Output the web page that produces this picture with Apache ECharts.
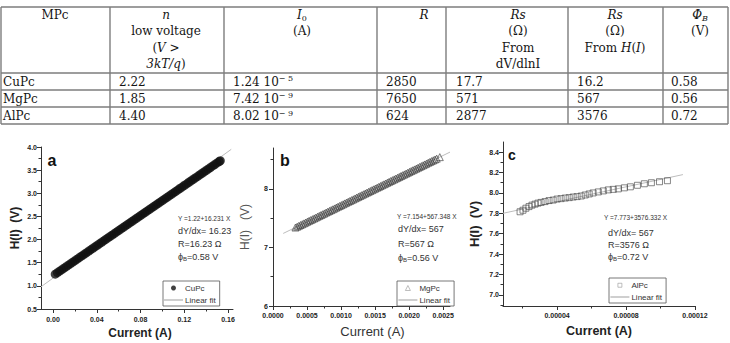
<!DOCTYPE html>
<html>
<head>
<meta charset="utf-8">
<script src="https://cdn.jsdelivr.net/npm/echarts@6/dist/echarts.min.js"></script>
<style>
html,body{margin:0;padding:0;background:#fff;}
#chart{width:730px;height:343px;}
</style>
</head>
<body>
<div id="chart"></div>
<script>
// ---------- Table data ----------
const tableHeaders = [
  ['MPc'],
  ['{i|n}', 'low voltage', '({i|V} >', '{i|3kT/q})'],
  ['{i|I}{sub|0}', '(A)'],
  ['{i|R}'],
  ['{i|Rs}', '(Ω)', 'From', 'dV/dlnI'],
  ['{i|Rs}', '(Ω)', 'From {i|H}({i|I})'],
  ['{i|Φ}{isub|B}', '(V)']
];
const mpc = ['CuPc', 'MgPc', 'AlPc'];
const nLow = ['2.22', '1.85', '4.40'];
const i0Mant = ['1.24', '7.42', '8.02'];
const i0Exp = ['− 5', '− 9', '− 9'];
const rVals = ['2850', '7650', '624'];
const rsDv = ['17.7', '571', '2877'];
const rsH = ['16.2', '567', '3576'];
const phiB = ['0.58', '0.56', '0.72'];

// ---------- Chart a (CuPc) ----------
const aCurrent = [0.002,0.004,0.006,0.008,0.010,0.012,0.014,0.016,0.018,0.020,0.022,0.024,0.026,0.028,0.030,0.032,0.034,0.036,0.038,0.040,0.042,0.044,0.046,0.048,0.050,0.052,0.054,0.056,0.058,0.060,0.062,0.064,0.066,0.068,0.070,0.072,0.074,0.076,0.078,0.080,0.082,0.084,0.086,0.088,0.090,0.092,0.094,0.096,0.098,0.100,0.102,0.104,0.106,0.108,0.110,0.112,0.114,0.116,0.118,0.120,0.122,0.124,0.126,0.128,0.130,0.132,0.134,0.136,0.138,0.140,0.142,0.144,0.146,0.148,0.150,0.152,0.153];
const aH = [1.252,1.285,1.317,1.350,1.382,1.415,1.447,1.480,1.512,1.545,1.577,1.610,1.642,1.674,1.707,1.739,1.772,1.804,1.837,1.869,1.902,1.934,1.967,1.999,2.032,2.064,2.096,2.129,2.161,2.194,2.226,2.259,2.291,2.324,2.356,2.389,2.421,2.454,2.486,2.518,2.551,2.583,2.616,2.648,2.681,2.713,2.746,2.778,2.811,2.843,2.876,2.908,2.940,2.973,3.005,3.038,3.070,3.103,3.135,3.168,3.200,3.233,3.265,3.298,3.330,3.362,3.395,3.427,3.460,3.492,3.525,3.557,3.590,3.622,3.655,3.687,3.703];
const aFitX = [-0.011, 0.163];
const aFitY = [0.98, 3.95];
const aXTicks = [0, 0.04, 0.08, 0.12, 0.16];
const aYTicks = [0.5, 1.0, 1.5, 2.0, 2.5, 3.0, 3.5, 4.0];
const aNotes = ['Y =1.22+16.231 X', 'dY/dx= 16.23', 'R=16.23 Ω', '0.58 V'];

// ---------- Chart b (MgPc) ----------
const bCurrent = [0.000330,0.000355,0.000380,0.000405,0.000430,0.000455,0.000480,0.000505,0.000530,0.000555,0.000580,0.000605,0.000630,0.000655,0.000680,0.000705,0.000730,0.000755,0.000780,0.000805,0.000830,0.000855,0.000880,0.000905,0.000930,0.000955,0.000980,0.001005,0.001030,0.001055,0.001080,0.001105,0.001130,0.001155,0.001180,0.001205,0.001230,0.001255,0.001280,0.001305,0.001330,0.001355,0.001380,0.001405,0.001430,0.001455,0.001480,0.001505,0.001530,0.001555,0.001580,0.001605,0.001630,0.001655,0.001680,0.001705,0.001730,0.001755,0.001780,0.001805,0.001830,0.001855,0.001880,0.001905,0.001930,0.001955,0.001980,0.002005,0.002030,0.002055,0.002080,0.002105,0.002130,0.002155,0.002180,0.002205,0.002230,0.002255,0.002280,0.002305,0.002330,0.002355,0.002380,0.002405,0.002450];
const bH = [7.341,7.355,7.370,7.384,7.398,7.412,7.426,7.441,7.455,7.469,7.483,7.497,7.511,7.526,7.540,7.554,7.568,7.582,7.597,7.611,7.625,7.639,7.653,7.667,7.682,7.696,7.710,7.724,7.738,7.753,7.767,7.781,7.795,7.809,7.823,7.838,7.852,7.866,7.880,7.894,7.909,7.923,7.937,7.951,7.965,7.980,7.994,8.008,8.022,8.036,8.050,8.065,8.079,8.093,8.107,8.121,8.136,8.150,8.164,8.178,8.192,8.206,8.221,8.235,8.249,8.263,8.277,8.292,8.306,8.320,8.334,8.348,8.362,8.377,8.391,8.405,8.419,8.433,8.448,8.462,8.476,8.490,8.504,8.518,8.544];
const bFitX = [0.00015, 0.0026];
const bFitY = [7.24, 8.63];
const bXTicks = [0, 0.0005, 0.0010, 0.0015, 0.0020, 0.0025];
const bYTicks = [6, 7, 8];
const bNotes = ['Y =7.154+567.348 X', 'dY/dx= 567', 'R=567 Ω', '0.56 V'];

// ---------- Chart c (AlPc) ----------
const cCurrent = [0.0000185,0.0000202,0.0000219,0.0000237,0.0000254,0.0000272,0.0000289,0.0000307,0.0000330,0.0000353,0.0000377,0.0000400,0.0000423,0.0000447,0.0000470,0.0000493,0.0000516,0.0000540,0.0000563,0.0000586,0.0000609,0.0000639,0.0000668,0.0000697,0.0000726,0.0000755,0.0000790,0.0000825,0.0000866,0.0000906,0.0000947,0.0000994,0.0001040];
const cH = [7.815,7.83,7.85,7.866,7.88,7.89,7.90,7.907,7.915,7.925,7.93,7.94,7.944,7.95,7.954,7.96,7.964,7.97,7.98,7.99,8.00,8.01,8.02,8.03,8.035,8.04,8.05,8.06,8.075,8.09,8.10,8.11,8.12];
const cFitX = [0.0000086, 0.000113];
const cFitY = [7.80, 8.18];
const cXTicks = [0.00004, 0.00008, 0.00012];
const cYTicks = [7.0, 7.2, 7.4, 7.6, 7.8, 8.0, 8.2, 8.4];
const cNotes = ['Y =7.773+3576.332 X', 'dY/dx= 567', 'R=3576 Ω', '0.72 V'];

const zip = (xs, ys) => xs.map((x, i) => [x, ys[i]]);

// ---------- Build ----------
const chart = echarts.init(document.getElementById('chart'), null, {renderer: 'svg'});
const SERIF = 'DejaVu Serif';
const SANS = 'Liberation Sans';
const TXT = '#151515';
const tableRich = {
  i: {fontFamily: SERIF, fontStyle: 'italic', fontSize: 12, fill: TXT, color: TXT},
  sub: {fontFamily: SERIF, fontSize: 8, fill: TXT, color: TXT, verticalAlign: 'bottom', padding: [6, 0, 0, 0]},
  isub: {fontFamily: SERIF, fontStyle: 'italic', fontSize: 8, fill: TXT, color: TXT, verticalAlign: 'bottom', padding: [6, 0, 0, 0]},
  sup: {fontFamily: SERIF, fontSize: 8, fill: TXT, color: TXT, verticalAlign: 'top', padding: [0, 0, 6, 0]}
};
const graphics = [];
// table lines
const colX = [1, 110, 224, 377, 446, 568, 663, 728];
const rowY = [7, 73, 90, 107, 124];
const lineStyle = {stroke: '#7d7d7d', lineWidth: 1.4};
colX.forEach(x => graphics.push({type: 'line', shape: {x1: x, y1: rowY[0], x2: x, y2: rowY[rowY.length - 1]}, style: lineStyle, silent: true}));
rowY.forEach(y => graphics.push({type: 'line', shape: {x1: colX[0], y1: y, x2: colX[colX.length - 1], y2: y}, style: lineStyle, silent: true}));
// header text
const headCenters = [55, 166, 302, 424, 518, 615, 700];
tableHeaders.forEach((lines, c) => {
  lines.forEach((t, k) => {
    graphics.push({type: 'text', x: headCenters[c], y: 15 + k * 16.3, silent: true,
      style: {text: t, rich: tableRich, fontFamily: SERIF, fontSize: 12, fill: TXT, align: 'center', verticalAlign: 'middle'}});
  });
});
// body
const cellLeft = [3, 119, 233, 386, 456, 577, 671];
const rowCenters = [81.5, 98.5, 116];
mpc.forEach((m, r) => {
  const cells = [m, nLow[r], i0Mant[r] + ' 10{sup|' + i0Exp[r] + '}', rVals[r], rsDv[r], rsH[r], phiB[r]];
  cells.forEach((t, c) => {
    graphics.push({type: 'text', x: cellLeft[c], y: rowCenters[r], silent: true,
      style: {text: t, rich: tableRich, fontFamily: SERIF, fontSize: 12, fill: TXT, align: 'left', verticalAlign: 'middle'}});
  });
});
// panel letters
[['a', 52, 160, 16], ['b', 285, 160, 16], ['c', 512, 155, 14]].forEach(([t, x, y, s]) => {
  graphics.push({type: 'text', x, y, silent: true, style: {text: t, fontFamily: SANS, fontWeight: 'bold', fontSize: s, fill: '#111', align: 'center', verticalAlign: 'middle'}});
});
// annotations
const NOTE = '#333';
const noteRich = {
  n: {fontFamily: SANS, fontSize: 9, fill: NOTE, color: NOTE},
  s: {fontFamily: SANS, fontSize: 6, fill: NOTE, color: NOTE, verticalAlign: 'bottom', padding: [4, 0, 0, 0]}
};
function addNotes(notes, x, ys, xFirst) {
  graphics.push({type: 'text', x: xFirst, y: ys[0], silent: true, style: {text: notes[0], fontFamily: SANS, fontSize: 6.5, fill: NOTE, align: 'left', verticalAlign: 'middle'}});
  graphics.push({type: 'text', x, y: ys[1], silent: true, style: {text: notes[1], fontFamily: SANS, fontSize: 9, fill: NOTE, align: 'left', verticalAlign: 'middle'}});
  graphics.push({type: 'text', x, y: ys[2], silent: true, style: {text: notes[2], fontFamily: SANS, fontSize: 9, fill: NOTE, align: 'left', verticalAlign: 'middle'}});
  graphics.push({type: 'text', x, y: ys[3], silent: true, style: {text: '{n|ϕ}{s|B}{n|=' + notes[3] + '}', rich: noteRich, fontFamily: SANS, fontSize: 9, fill: NOTE, align: 'left', verticalAlign: 'middle'}});
}
addNotes(aNotes, 178, [218, 231, 244, 257], 178);
addNotes(bNotes, 398, [216, 229, 244, 258], 397);
addNotes(cNotes, 608, [217, 233, 245, 257], 604);

// ---------- axes ----------
const axisColor = '#333';
function majorAxis(dim, grid, min, max, ticks, fmt, name, nameOpts, labelMargin) {
  return Object.assign({
    type: 'value', gridIndex: grid, min, max,
    position: dim === 'x' ? 'bottom' : 'left',
    axisLine: {show: true, onZero: false, lineStyle: {color: axisColor, width: 1}},
    axisTick: {show: true, customValues: ticks, length: 4, lineStyle: {color: axisColor, width: 1}},
    axisLabel: {show: true, customValues: ticks, showMinLabel: true, showMaxLabel: true, hideOverlap: false,
      formatter: v => v.toFixed(fmt), fontFamily: SANS, fontSize: 7, fontWeight: 'bold', color: '#222', margin: labelMargin},
    splitLine: {show: false},
    name, nameLocation: 'middle'
  }, nameOpts);
}
function minorAxis(dim, grid, min, max, ticks) {
  return {
    type: 'value', gridIndex: grid, min, max,
    position: dim === 'x' ? 'bottom' : 'left',
    axisLine: {show: false, onZero: false},
    axisTick: {show: true, customValues: ticks, length: 2.5, lineStyle: {color: axisColor, width: 1}},
    axisLabel: {show: false},
    splitLine: {show: false}
  };
}
const boldName = {fontFamily: SANS, fontWeight: 'bold', fontSize: 12, color: '#222'};
const xAxis = [
  majorAxis('x', 0, -0.011, 0.1646, aXTicks, 2, 'Current (A)', {nameGap: 18, nameTextStyle: Object.assign({}, boldName, {padding: [0, 0, 0, 6]})}, 7),
  minorAxis('x', 0, -0.011, 0.1646, [0.02, 0.06, 0.10, 0.14]),
  majorAxis('x', 1, 0, 0.0026, bXTicks, 4, 'Current (A)', {nameGap: 19, nameTextStyle: {fontFamily: SANS, fontSize: 13, color: '#333', padding: [0, 0, 0, 22]}}, 6),
  minorAxis('x', 1, 0, 0.0026, [0.00025, 0.00075, 0.00125, 0.00175, 0.00225]),
  majorAxis('x', 2, 0.0000086, 0.00012, cXTicks, 5, 'Current (A)', {nameGap: 18, nameTextStyle: Object.assign({}, boldName, {fontSize: 12.5})}, 6),
  minorAxis('x', 2, 0.0000086, 0.00012, [0.00002, 0.00006, 0.00010])
];
const yAxis = [
  majorAxis('y', 0, 0.5, 4.0, aYTicks, 1, 'H(I)  (V)', {nameGap: 20, nameRotate: 90, nameTextStyle: boldName}, 4),
  minorAxis('y', 0, 0.5, 4.0, [0.75, 1.25, 1.75, 2.25, 2.75, 3.25, 3.75]),
  majorAxis('y', 1, 6, 8.7, bYTicks, 0, 'H(I)   (V)', {nameGap: 22, nameRotate: 90, nameTextStyle: {fontFamily: SANS, fontSize: 12, color: '#555'}}, 5),
  minorAxis('y', 1, 6, 8.7, [6.5, 7.5, 8.5]),
  majorAxis('y', 2, 6.89, 8.5, cYTicks, 1, 'H(I)  (V)', {nameGap: 22, nameRotate: 90, nameTextStyle: Object.assign({}, boldName, {fontSize: 13})}, 4),
  minorAxis('y', 2, 6.89, 8.5, [6.9, 7.1, 7.3, 7.5, 7.7, 7.9, 8.1, 8.3])
];

const FIT = '#bdbdbd';
const fitStyle = {color: FIT, width: 1};
const series = [
  {type: 'line', name: 'Linear fit', xAxisIndex: 0, yAxisIndex: 0, data: zip(aFitX, aFitY), symbol: 'none', lineStyle: fitStyle, itemStyle: {color: FIT}, z: 2, silent: true},
  {type: 'scatter', name: 'CuPc', xAxisIndex: 0, yAxisIndex: 0, data: zip(aCurrent, aH), symbol: 'circle', symbolSize: 9, itemStyle: {color: '#111'}, z: 3, silent: true},
  {type: 'line', name: 'Linear fit', xAxisIndex: 2, yAxisIndex: 2, data: zip(bFitX, bFitY), symbol: 'none', lineStyle: fitStyle, itemStyle: {color: FIT}, z: 2, silent: true},
  {type: 'scatter', name: 'MgPc', xAxisIndex: 2, yAxisIndex: 2, data: zip(bCurrent, bH), symbol: 'triangle', symbolSize: 7, itemStyle: {color: 'rgba(255,255,255,0)', borderColor: '#333', borderWidth: 0.8}, z: 3, silent: true},
  {type: 'line', name: 'Linear fit', xAxisIndex: 4, yAxisIndex: 4, data: zip(cFitX, cFitY), symbol: 'none', lineStyle: fitStyle, itemStyle: {color: FIT}, z: 2, silent: true},
  {type: 'scatter', name: 'AlPc', xAxisIndex: 4, yAxisIndex: 4, data: zip(cCurrent, cH), symbol: 'rect', symbolSize: 6, itemStyle: {color: 'rgba(255,255,255,0)', borderColor: '#444', borderWidth: 0.8}, z: 3, silent: true}
];

// icons padded to a wide box so the marker stays small and centred
const ICON_TRI = 'path://M0,0L0.01,0M19,0L19.01,0M9.5,0L12,5L7,5Z';
const ICON_RECT = 'path://M0,0L0.01,0M19,0L19.01,0M7.5,0.5L11.5,0.5L11.5,4.5L7.5,4.5Z';
function legendAt(left, top, name, icon, iconStyle) {
  return {
    orient: 'vertical', left, top,
    data: [
      {name, icon, itemStyle: iconStyle},
      {name: 'Linear fit', icon: 'path://M0,0L20,0L20,1L0,1Z', itemStyle: {color: '#9a9a9a', borderWidth: 0}}
    ],
    itemWidth: 19, itemHeight: 5, itemGap: 4, padding: [3, 4, 2, 1],
    symbolKeepAspect: true,
    borderColor: '#555', borderWidth: 0.8, selectedMode: false,
    textStyle: {fontFamily: SANS, fontSize: 8, color: '#333', padding: [0, 0, 0, -3]}
  };
}

chart.setOption({
  animation: false,
  grid: [
    {left: 41, top: 147, width: 192, height: 162},
    {left: 273, top: 148, width: 177, height: 158},
    {left: 503, top: 142, width: 192, height: 164}
  ],
  xAxis, yAxis, series,
  legend: [
    legendAt(163, 281, 'CuPc', 'circle', {color: '#111', borderWidth: 0}),
    legendAt(397, 281, 'MgPc', ICON_TRI, {color: 'rgba(255,255,255,0)', borderColor: '#999', borderWidth: 0.8}),
    legendAt(609, 278, 'AlPc', ICON_RECT, {color: 'rgba(255,255,255,0)', borderColor: '#999', borderWidth: 0.8})
  ],
  graphic: graphics
});
</script>
</body>
</html>
